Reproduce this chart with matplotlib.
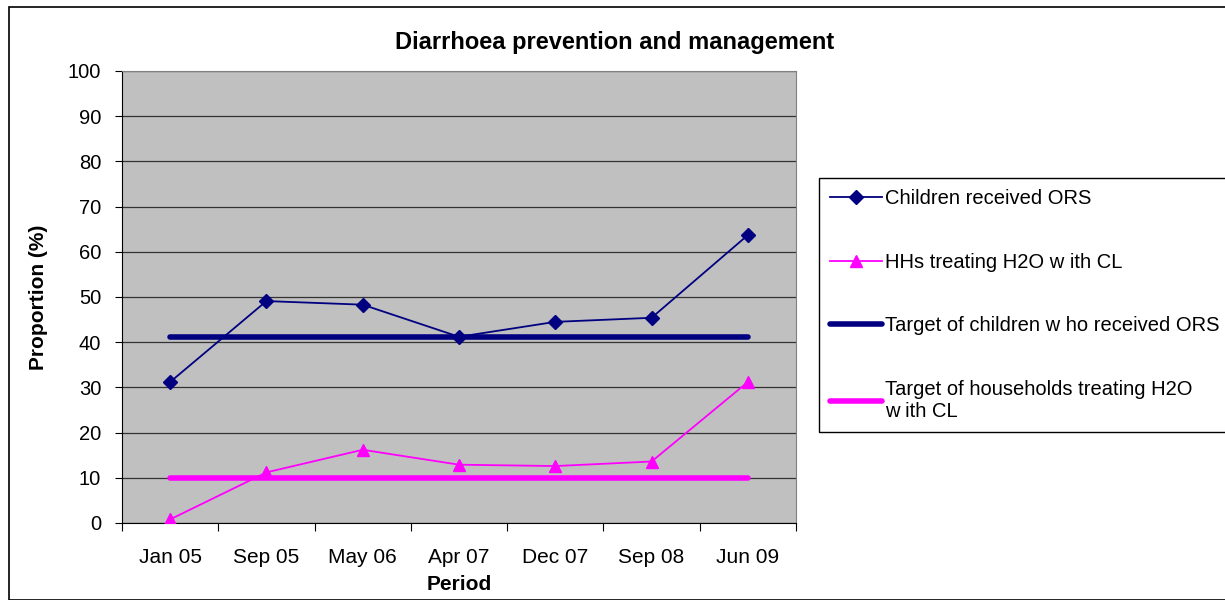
import matplotlib
matplotlib.use("Agg")
import matplotlib.pyplot as plt
from matplotlib.patches import Rectangle

plt.rcParams['font.family'] = ['Liberation Sans', 'DejaVu Sans']

periods = ["Jan 05", "Sep 05", "May 06", "Apr 07", "Dec 07", "Sep 08", "Jun 09"]
children_ors = [31.2, 49.1, 48.3, 41.2, 44.5, 45.4, 63.7]
hh_treating = [0.8, 11.2, 16.2, 12.9, 12.6, 13.6, 31.2]
target_ors = [41.2] * 7
target_hh = [10] * 7

W, H = 1225, 600
fig = plt.figure(figsize=(W / 100, H / 100), dpi=100)
fig.patch.set_facecolor("white")
# chart border
fig.patches.append(Rectangle((9 / W, 0), 1.2, 1 - 7 / H, transform=fig.transFigure,
                             fill=False, edgecolor="black", linewidth=1.2))

ax = fig.add_axes([122 / W, 1 - 523 / H, (796 - 122) / W, (523 - 71) / H])
ax.set_facecolor("#C0C0C0")
x = list(range(len(periods)))

ax.plot(x, children_ors, color="#000080", linewidth=1.3, marker="D", markersize=7,
        label="Children received ORS", zorder=4)
ax.plot(x, hh_treating, color="#FF00FF", linewidth=1.3, marker="^", markersize=9,
        label="HHs treating H2O w ith CL", zorder=4)
ax.plot(x, target_ors, color="#000080", linewidth=4, solid_capstyle="round",
        label="Target of children w ho received ORS", zorder=3)
ax.plot(x, target_hh, color="#FF00FF", linewidth=4, solid_capstyle="round",
        label="Target of households treating H2O\nw ith CL", zorder=3)

ax.set_xlim(-0.5, len(periods) - 0.5)
ax.set_ylim(0, 100)
ax.set_yticks(range(0, 101, 10))
ax.yaxis.grid(True, color="#333333", linewidth=0.9)
ax.set_axisbelow(True)

ax.set_xticks([i - 0.5 for i in range(len(periods) + 1)])
ax.set_xticklabels([])
ax.set_xticks(x, minor=True)
ax.set_xticklabels(periods, minor=True, fontsize=15)
ax.tick_params(axis="x", which="major", direction="out", length=6, color="black")
ax.tick_params(axis="x", which="minor", length=0, pad=18)
ax.tick_params(axis="y", direction="out", length=5, labelsize=14.5, pad=10)

for s in ["top", "right"]:
    ax.spines[s].set_color("#808080")
for s in ["left", "bottom"]:
    ax.spines[s].set_color("black")

ax.set_xlabel("Period", fontsize=15, fontweight="bold", labelpad=6)
ax.set_ylabel("Proportion (%)", fontsize=15, fontweight="bold", labelpad=14)
fig.suptitle("Diarrhoea prevention and management", fontsize=17, fontweight="bold",
             x=0.502, y=1 - 42 / H, va="center")

leg = ax.legend(loc="upper left", bbox_to_anchor=(819 / W, 1 - 178 / H),
                bbox_transform=fig.transFigure, borderaxespad=0, fontsize=14.5,
                frameon=True, fancybox=False, edgecolor="black", framealpha=1,
                handlelength=2.6, handletextpad=0.15, labelspacing=2.22,
                borderpad=0.55)
leg.get_frame().set_linewidth(1.0)

fig.savefig("out.png", dpi=100)
